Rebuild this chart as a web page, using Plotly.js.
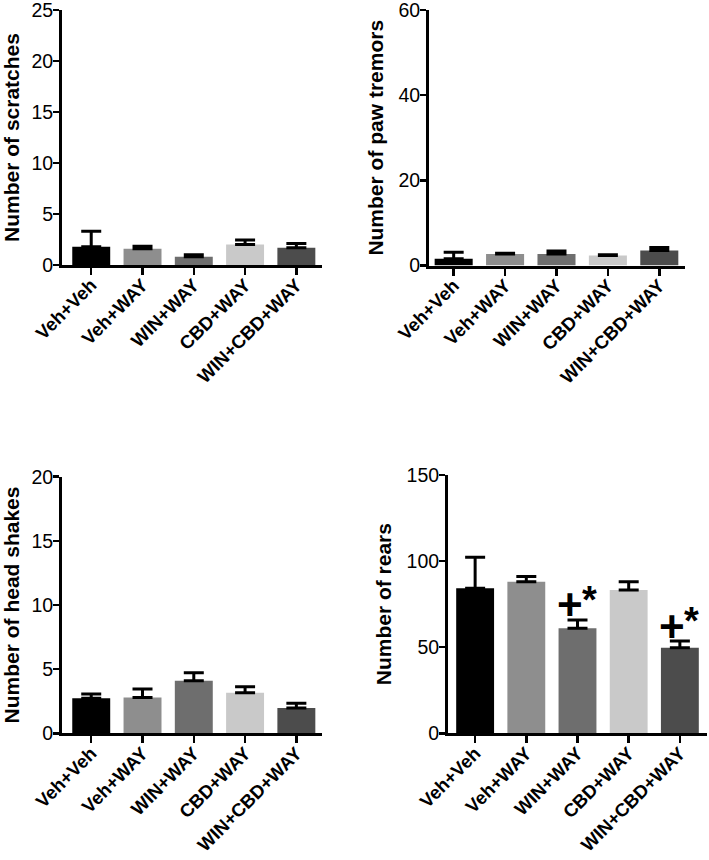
<!DOCTYPE html>
<html><head><meta charset="utf-8">
<script src="https://cdn.plot.ly/plotly-3.0.1.min.js"></script>
<style>html,body{margin:0;padding:0;background:#fff}</style>
</head><body><div id="chart" style="width:709px;height:860px"></div>
<script>
// ---- data ----
const groups = ['Veh+Veh', 'Veh+WAY', 'WIN+WAY', 'CBD+WAY', 'WIN+CBD+WAY'];
const barColors = ['#000000', '#8e8e8e', '#6e6e6e', '#c9c9c9', '#4c4c4c'];

const scratchMean = [1.8, 1.6, 0.8, 2.0, 1.7];
const scratchErr  = [1.5, 0.25, 0.2, 0.45, 0.4];

const tremorMean = [1.6, 2.7, 2.7, 2.35, 3.5];
const tremorErr  = [1.5, 0.2, 0.7, 0.15, 0.7];

const shakeMean = [2.73, 2.8, 4.1, 3.17, 1.97];
const shakeErr  = [0.33, 0.65, 0.62, 0.46, 0.37];

const rearMean = [84.2, 88, 61, 83.2, 49.7];
const rearErr  = [18, 3, 4.8, 4.8, 3.9];

const rearSig = ['WIN+WAY', 'WIN+CBD+WAY'];

// ---- styling ----
const FONT = 'Arial, "Liberation Sans", sans-serif';

function barTrace(mean, err, xa, ya) {
  return {
    type: 'bar', x: groups, y: mean,
    xaxis: xa, yaxis: ya,
    width: 0.74,
    marker: {color: barColors, line: {width: 0}},
    error_y: {type: 'data', symmetric: false, array: err,
              arrayminus: err.map(() => 0),
              color: '#000', thickness: 3, width: 10},
    hoverinfo: 'skip'
  };
}

function xAxis(domain, range, anchor) {
  return {
    domain: domain, range: range, anchor: anchor,
    showline: true, linecolor: '#000', linewidth: 3,
    ticks: 'outside', ticklen: 7, tickwidth: 2.5, tickcolor: '#000',
    tickangle: -45, showgrid: false, zeroline: false,
    ticklabeloverflow: 'allow', ticklabelstandoff: -8,
    tickfont: {family: FONT, size: 18.5, color: '#000', weight: 700},
    fixedrange: true
  };
}

function yAxis(domain, range, dtick, title, anchor) {
  return {
    domain: domain, range: range, dtick: dtick, anchor: anchor,
    showline: true, linecolor: '#000', linewidth: 3,
    ticks: 'outside', ticklen: 6, tickwidth: 2.5, tickcolor: '#000',
    showgrid: false, zeroline: false,
    ticklabeloverflow: 'allow', ticklabelstandoff: -4,
    tickfont: {family: FONT, size: 19.5, color: '#000'},
    title: {text: title, standoff: 10,
            font: {family: FONT, size: 21, color: '#000', weight: 700}},
    fixedrange: true
  };
}

const data = [
  barTrace(scratchMean, scratchErr, 'x', 'y'),
  barTrace(tremorMean, tremorErr, 'x2', 'y2'),
  barTrace(shakeMean, shakeErr, 'x3', 'y3'),
  barTrace(rearMean, rearErr, 'x4', 'y4')
];

const W = 709, H = 860;
const px = (a, b) => [a / W, b / W];
const py = (top, bottom) => [1 - bottom / H, 1 - top / H];

const annotations = [];
rearSig.forEach(g => {
  const i = groups.indexOf(g);
  const top = rearMean[i] + rearErr[i];
  annotations.push({
    xref: 'x4', yref: 'y4', x: g, y: top, text: '+',
    showarrow: false, xanchor: 'center', yanchor: 'middle',
    xshift: -8, yshift: 15,
    font: {family: FONT, size: 44, color: '#000', weight: 700}
  });
  annotations.push({
    xref: 'x4', yref: 'y4', x: g, y: top, text: '*',
    showarrow: false, xanchor: 'center', yanchor: 'middle',
    xshift: 12, yshift: 20,
    font: {family: FONT, size: 38, color: '#000', weight: 700}
  });
});

const layout = {
  width: W, height: H,
  margin: {l: 0, r: 0, t: 0, b: 0},
  paper_bgcolor: '#fff', plot_bgcolor: '#fff',
  showlegend: false,
  xaxis:  xAxis(px(62, 322), [-0.57, 4.5], 'y'),
  yaxis:  yAxis(py(10, 265), [0, 25], 5, 'Number of scratches', 'x'),
  xaxis2: xAxis(px(429, 685), [-0.48, 4.5], 'y2'),
  yaxis2: yAxis(py(10, 265.5), [0, 60], 20, 'Number of paw tremors', 'x2'),
  xaxis3: xAxis(px(62, 322), [-0.57, 4.5], 'y3'),
  yaxis3: yAxis(py(476.7, 733.3), [0, 20], 5, 'Number of head shakes', 'x3'),
  xaxis4: xAxis(px(448, 707), [-0.53, 4.53], 'y4'),
  yaxis4: yAxis(py(475, 733.3), [0, 150], 50, 'Number of rears', 'x4'),
  annotations: annotations
};

Plotly.newPlot('chart', data, layout, {staticPlot: true, displayModeBar: false});
</script>
</body></html>
